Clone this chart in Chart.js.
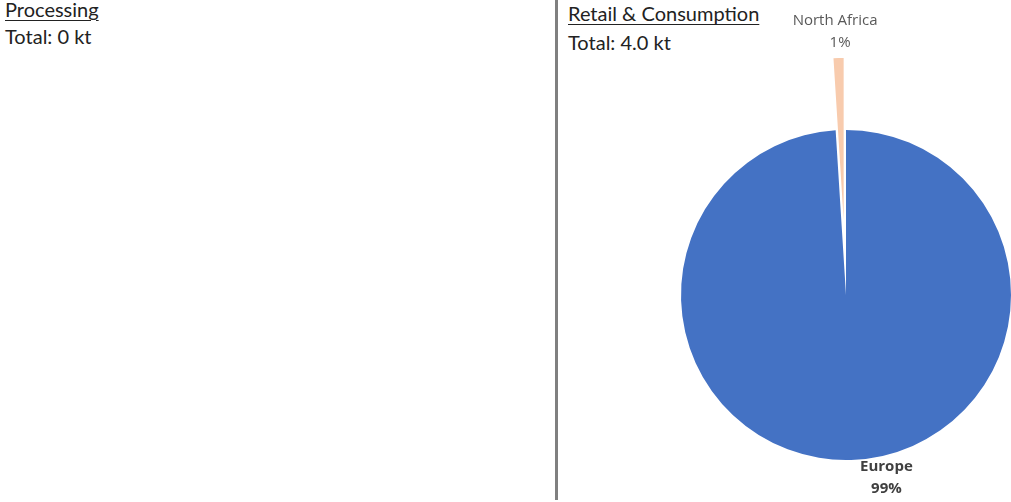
<!DOCTYPE html>
<html>
<head>
<meta charset="utf-8">
<script src="https://cdn.jsdelivr.net/npm/chart.js@4"></script>
<style>
  html, body { margin: 0; padding: 0; background: #fff; }
  body { width: 1011px; height: 502px; position: relative; overflow: hidden; font-family: Lato, sans-serif; color: #222; }
  .title { position: absolute; font-size: 20px; text-decoration: underline; text-decoration-thickness: 1px; text-underline-offset: 3px; line-height: 22px; white-space: nowrap; }
  .total { position: absolute; font-size: 20px; line-height: 22px; white-space: nowrap; }
  #divider { position: absolute; left: 555px; top: 0; width: 3px; height: 500px; background: #808080; }
  #wrapper-pie { position: absolute; left: 560px; top: 0; width: 451px; height: 502px; }
</style>
</head>
<body>

<div class="title" style="left:5px; top:-2px;">Processing</div>
<div class="total" id="total-processing" style="left:5px; top:25px;"></div>
<div id="divider"></div>
<div class="title" style="left:568px; top:2px;">Retail &amp; Consumption</div>
<div class="total" id="total-retail" style="left:568px; top:31px;"></div>

<div id="wrapper-pie"><canvas id="pieRetail" width="451" height="502"></canvas></div>

<script>
  ///////////////////////////
 // DONNÉES               //
///////////////////////////

const regions = ['Europe', 'North Africa'];
const retailValues = [3.96, 0.04];     // kt
const processingValues = [];           // rien à afficher

const regionColors = ['#4472C4', '#F8CBAD'];
const explode = [0, 75];               // part détachée, en px
const explodedRadiusLoss = 3;

// Totaux
const sum = arr => arr.reduce((a, b) => a + b, 0);
document.getElementById('total-processing').textContent = 'Total: ' + sum(processingValues) + ' kt';
document.getElementById('total-retail').textContent = 'Total: ' + sum(retailValues).toFixed(1) + ' kt';


  ///////////////////////////
 // PLUGINS               //
///////////////////////////

// Part détachée : simple translation le long de l'angle médian (l'offset de Chart.js rétrécit les petites parts)
const explodeSlices = {
  id: 'explodeSlices',
  afterDatasetUpdate(chart, args) {
    args.meta.data.forEach((arc, i) => {
      const d = explode[i] || 0;
      if (!d) return;
      const mid = (arc.startAngle + arc.endAngle) / 2;
      arc.x += Math.cos(mid) * d;
      arc.y += Math.sin(mid) * d;
      arc.outerRadius -= explodedRadiusLoss;
    });
  }
};

const labelStyle = [
  { font: 'bold 15px "Open Sans", sans-serif', color: '#404040', gap: 7, dx: [35, 35], dir: 1 },
  { font: '15px "Open Sans", sans-serif', color: '#595959', gap: 15, dx: [2, -3], dir: -1 }
];

const pieLabels = {
  id: 'pieLabels',
  afterDatasetsDraw(chart) {
    const ctx = chart.ctx;
    const meta = chart.getDatasetMeta(0);
    const total = sum(retailValues);
    meta.data.forEach((arc, i) => {
      const p = arc.getProps(['x', 'y', 'startAngle', 'endAngle', 'outerRadius']);
      const mid = (p.startAngle + p.endAngle) / 2;
      const st = labelStyle[i];
      const r = p.outerRadius + st.gap;
      const x = p.x + Math.cos(mid) * r;
      const y = p.y + Math.sin(mid) * r;
      const pct = Math.round(retailValues[i] / total * 100) + '%';
      const lines = st.dir > 0 ? [regions[i], pct] : [pct, regions[i]];
      ctx.save();
      ctx.font = st.font;
      ctx.fillStyle = st.color;
      ctx.textAlign = 'center';
      ctx.textBaseline = 'middle';
      lines.forEach((t, k) => ctx.fillText(t, x + st.dx[k], y + st.dir * k * 22));
      ctx.restore();
    });
  }
};


  ///////////////////////////
 // GRAPHIQUE CHART.JS    //
///////////////////////////

const ctxPie = document.getElementById('pieRetail').getContext('2d');

new Chart(ctxPie, {
  type: 'pie',
  data: {
    labels: regions,
    datasets: [{
      data: retailValues,
      backgroundColor: regionColors,
      borderWidth: 0
    }]
  },
  options: {
    responsive: false,
    animation: false,
    radius: 165,
    layout: { padding: { left: 121, top: 88, right: 0, bottom: 0 } },
    plugins: {
      legend: { display: false },
      tooltip: { enabled: false }
    }
  },
  plugins: [explodeSlices, pieLabels]
});
</script>
</body>
</html>
